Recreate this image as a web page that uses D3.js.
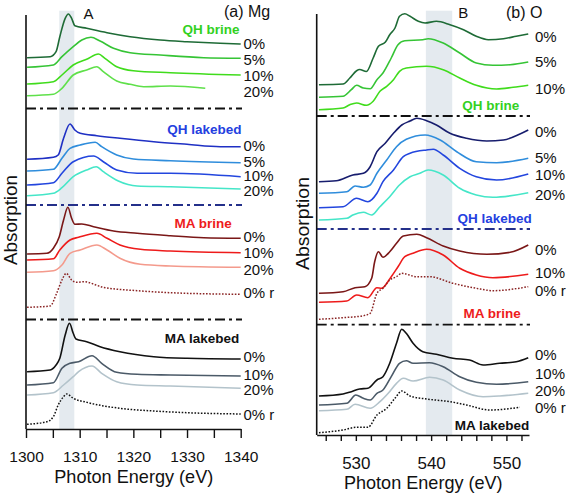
<!DOCTYPE html>
<html><head><meta charset="utf-8">
<script src="https://cdn.jsdelivr.net/npm/d3@7"></script>
<style>body{margin:0;background:#fff}svg{display:block}text{font-family:"Liberation Sans",Arial,sans-serif}</style>
</head><body>
<script>
// ---------- DATA (energy eV, absorption arb. units) ----------
// (a) Mg K-edge
const mgTicks = [1300,1305,1310,1315,1320,1325,1330,1335,1340];
const mgQHb0 = [[1300.2,382.3],[1304.5,383.3],[1305.6,388.3],[1306.3,403.3],[1307.3,421.7],[1307.9,426],[1308.5,421.7],[1309.1,414.3],[1311.3,411.7],[1315.1,407.3],[1319.4,403.3],[1325,400],[1330,398.3],[1336.2,396.7],[1340,396]];
const mgQHb5 = [[1300.2,372.7],[1305.1,375],[1306.7,383.3],[1308.8,393.3],[1310.4,400],[1312.1,402.7],[1313.8,399],[1316.3,391.7],[1319.4,387.3],[1325,385],[1333.1,382.3],[1340,381.7]];
const mgQHb10 = [[1300.2,356],[1305.1,358.3],[1306.7,365],[1308.8,375],[1311.3,380.7],[1313.5,386],[1314.7,381.7],[1316.9,373.3],[1320,369.3],[1326.9,367.3],[1340,365]];
const mgQHb20 = [[1300.2,344.3],[1305.1,345.7],[1306.7,351.7],[1308.8,365],[1311.3,370],[1313.2,373.3],[1314.4,368.3],[1316.9,359],[1319.4,355.7],[1321.9,353.3],[1326.9,354],[1333.4,351.7]];
const mgQHl0 = [[1300.2,280.7],[1305.1,282.7],[1306.0,285],[1307.0,301.7],[1308.2,316],[1309.1,310],[1310.1,306.7],[1313.2,304.3],[1317.5,301.7],[1323.8,298.3],[1330,295.7],[1336.2,293.3],[1340,293.3]];
const mgQHl5 = [[1300.2,269],[1305.1,270.7],[1306.7,281.7],[1308.2,291.7],[1310.1,295],[1312.9,297.7],[1314.1,293.3],[1316.9,285],[1320,281],[1326.9,279.3],[1340,277.3]];
const mgQHl10 = [[1300.2,255],[1305.1,257.3],[1306.7,266.7],[1308.8,278.3],[1312.6,284],[1314.4,278.3],[1316.9,270],[1320.7,266.7],[1326.9,266.7],[1340,263.3]];
const mgQHl20 = [[1300.2,244.3],[1305.1,246.7],[1306.7,252.3],[1308.8,263.3],[1311.3,270],[1313.1,273.3],[1314.4,268.3],[1317.2,259],[1320.7,254],[1326.9,253.3],[1340,251]];
const mgMAb0 = [[1300.2,186],[1303.9,186.7],[1305.1,191.7],[1306.2,203.3],[1307.0,220],[1307.8,232.7],[1308.5,221.7],[1309.1,215.7],[1310.4,216],[1312.6,213.3],[1316.3,209],[1320.7,206.7],[1326.9,204.3],[1333.1,202.3],[1340,201.7]];
const mgMAb10 = [[1300.2,180],[1305.1,181.3],[1306.3,190],[1308.2,200],[1309.8,202.7],[1313.2,206.7],[1315.1,201.7],[1317.5,195],[1321.3,190.7],[1326.9,189],[1340,187.3]];
const mgMAb20 = [[1300.2,167.7],[1305.1,169.3],[1306.7,175],[1308.2,186.7],[1310.1,190],[1313.2,195],[1315.1,190],[1317.5,181.7],[1321.3,175.7],[1326.9,174],[1340,172.7]];
const mgMAb0r = [[1300.2,132.7],[1304.5,134],[1305.7,146.7],[1306.7,160],[1307.5,166.7],[1308.5,160],[1309.5,157.7],[1310.7,158.3],[1314.4,152.7],[1320.7,149.3],[1326.9,147.3],[1340,145.7]];
const mgMAl0 = [[1300.2,68.3],[1304.5,70],[1305.6,75],[1306.3,81.7],[1307.3,105],[1308.1,116.7],[1308.8,106.7],[1309.3,101],[1311.3,98.3],[1313.8,93.3],[1317.5,88.3],[1323.8,83.3],[1330,81.7],[1340,81]];
const mgMAl10 = [[1300.2,55],[1305.1,57.3],[1306.7,71.7],[1308.2,76.7],[1309.8,78.3],[1312.3,84.3],[1314.1,76.7],[1316.9,67.7],[1320.7,65.7],[1326.9,65],[1340,64]];
const mgMAl20 = [[1300.2,45],[1305.1,47.3],[1307.0,55],[1308.8,63.3],[1309.8,68.3],[1312.3,74],[1314.1,66.7],[1316.9,58.3],[1320.7,55],[1326.9,54],[1340,51.7]];
const mgMAl0r = [[1300.2,15.7],[1303.9,18.3],[1305.1,23.3],[1306.0,35],[1307.0,43.3],[1307.6,46],[1308.8,41.7],[1311.3,37.7],[1317.5,31.7],[1323.8,29],[1330,27.3],[1340,26]];

// (b) O K-edge
const oTicks = [526,528,530,532,534,536,538,540,542,544,546,548,550,552];
const oQHb0 = [[525.1,355.3],[528.3,356],[529.2,362],[530.1,369.3],[530.5,370.5],[531.4,368.5],[532.3,382],[533.0,393.7],[533.9,397.7],[534.5,405.3],[535.2,412],[535.8,423.7],[536.5,426.3],[537.2,423.7],[538.3,418.7],[539.2,417],[540.7,418.7],[542.5,415.3],[544.3,410.3],[546.0,403.7],[547.6,400.3],[549.6,401.3],[551.3,403.7],[552.9,406]];
const oQHb5 = [[525.1,342.7],[528.3,343.7],[529.4,350.3],[530.1,354.7],[531.0,352],[531.9,351.3],[532.8,360.3],[533.6,367],[534.7,382],[535.6,395.3],[536.5,399.3],[538.9,400.3],[539.6,401.3],[541.6,397],[543.8,387],[546.0,377],[548.2,374.7],[550.5,375.3],[552.9,378]];
const oQHb10 = [[525.1,330.3],[528.3,332],[529.2,335.3],[530.1,337],[531.4,334.7],[532.3,338.7],[533.2,348.7],[534.1,353.7],[535.0,360.3],[535.8,368.7],[536.7,372],[539.4,373.7],[541.6,370.3],[543.8,362],[546.0,354.7],[548.7,351],[550.9,352.7],[552.9,354.7]];
const oQHl0 = [[525.1,258.3],[527.4,259.3],[529.6,265],[531.0,266.7],[531.9,273.3],[532.8,288.3],[533.9,296.7],[535.0,306.7],[536.1,315],[537.2,319],[538.1,321.7],[539.4,319.3],[540.7,315],[542.5,306.7],[544.7,301.7],[547.4,299],[549.6,300],[551.8,306],[552.9,310]];
const oQHl5 = [[525.1,246.7],[528.8,248.3],[529.9,254],[531.0,252.7],[531.9,255],[532.8,266.7],[534.1,280],[535.4,293.3],[536.7,300.7],[539.2,305],[541.2,300],[543.4,288.3],[546.0,278.3],[548.7,277.3],[552.9,281.7]];
const oQHl10 = [[525.1,232.3],[528.3,233.3],[530.1,241.7],[531.6,238.3],[532.8,246.7],[533.6,258.3],[535.0,270],[536.3,283.3],[537.2,286.7],[539.4,290],[540.3,290.7],[541.6,285],[543.8,271.7],[546.0,263.3],[548.7,260],[552.9,266]];
const oQHl20 = [[525.1,220],[528.8,221.7],[529.6,225],[531.0,227.7],[532.1,225],[533.2,233.3],[534.5,243.3],[535.8,255],[537.2,263.3],[538.5,266.7],[539.6,270],[541.6,265],[543.8,251.7],[546.0,245],[548.2,242.7],[552.9,247.3]];
const oMAb0 = [[525.1,146.7],[528.3,148.3],[529.9,152.3],[531.2,153.3],[532.1,161.7],[532.5,178.3],[533.0,188.3],[533.6,182.7],[534.5,188.3],[535.4,196.7],[536.3,204],[538.1,205.7],[539.4,202.3],[541.6,194],[543.8,189],[547.4,185.7],[550.5,187.7],[552.9,195]];
const oMAb10 = [[525.1,137.7],[528.8,139],[530.1,145],[531.6,142.3],[532.8,152.3],[533.4,151.7],[534.7,163.3],[535.6,173.3],[536.5,183.3],[537.6,186.7],[539.4,190.7],[541.6,185],[543.8,171.7],[546.0,165],[548.2,162.3],[552.9,165.7]];
const oMAb0r = [[525.1,120.7],[528.3,122.3],[531.0,124.3],[531.9,126.7],[532.8,146.7],[533.6,151.7],[534.5,160],[535.4,163.3],[536.1,166.7],[538.1,163.3],[539.8,163.3],[542.9,156.7],[546.0,151.7],[548.2,149.3],[552.9,153.3]];
const oMAl0 = [[525.1,44],[528.3,46],[529.4,48.3],[530.5,51],[531.6,51.7],[532.8,60],[533.6,63.3],[534.5,76.7],[535.4,96.7],[536.1,110.7],[536.7,106.7],[537.6,96.7],[538.9,88.3],[540.7,85.7],[542.9,81.7],[545.1,80],[546.9,75],[549.1,76.7],[551.3,78.3],[552.9,82.3]];
const oMAl10 = [[525.1,35],[528.8,36.7],[530.0,45],[531.0,41.7],[531.9,40],[532.8,46.7],[533.6,50],[534.7,63.3],[535.8,76.7],[536.7,79.3],[537.6,76.7],[539.8,77.3],[541.6,73.3],[543.8,63.3],[546.0,57.7],[548.7,55.7],[552.9,58.3]];
const oMAl20 = [[525.1,29.3],[528.8,30.7],[529.9,35.7],[531.9,31.7],[533.2,38.3],[534.3,46.7],[535.4,56.7],[536.3,61.7],[537.6,59],[539.8,62.7],[541.6,60],[543.8,50],[546.9,43.3],[549.1,44],[552.9,46.7]];
const oMAl0r = [[525.1,7.3],[528.3,10],[530.1,12.7],[531.6,12.7],[532.8,25],[534.1,31.7],[535.2,41.7],[536.1,49],[537.2,44],[539.4,41],[542.5,38.3],[544.7,35],[547.8,30],[551.8,32.7]];

const mgBand = [1306.2, 1309.0];
const oBand = [539.3, 542.8];

// ---------- STYLE / LAYOUT ----------
const C = {
  qhb0:"#1e6b36", qhb5:"#35c435", qhb10:"#40dc1c", qhb20:"#5fe04a",
  qhl0:"#1f30c4", qhl5:"#2f8ddc", qhl10:"#2346de", qhl20:"#45e6c8",
  qhl0o:"#171d6e",
  mab0:"#7a1717", mab10:"#ee1b1b", mab20:"#f49a8c", mab0r:"#8a2424",
  mal0:"#111111", mal10:"#4b5a68", mal20:"#b3c3cb", mal0r:"#111111",
  grpQHb:"#33d11f", grpQHl:"#2440e0", grpMAb:"#ee1c1c", grpMAl:"#111111"
};

const W = 567, H = 495;
const svg = d3.select("body").append("svg").attr("width", W).attr("height", H);

const y = d3.scaleLinear().domain([0, 440]).range([440, 0]);
const xL = d3.scaleLinear().domain([1300, 1340]).range([26, 240.7]);
const xR = d3.scaleLinear().domain([524.8, 553]).range([316.7, 529]);

const panels = [
  { x: xL, axisY: 429, topY: 15, band: mgBand, bandTop: 10.7, tickSize: 9, tickFont: 15.5, tickPad: 13.4,
    ticks: mgTicks, sepEnd: 242, seps: [[108.5,"#111"],[205,"#24308a"],[319.5,"#111"]],
    labX: 243.5, labFont: 15, titleX: 133.8, titleY: 483, titleLen: 159, titleFont: 19,
    ylabX: 17, ylabY: 220, ylabLen: 90,
    letter: ["A", 83.5, 19.3], tag: ["(a) Mg", 224, 16.5],
    series: [
      [mgQHb0,"qhb0","0%",48.5],[mgQHb5,"qhb5","5%",65],[mgQHb10,"qhb10","10%",80.5],[mgQHb20,"qhb20","20%",96.5],
      [mgQHl0,"qhl0","0%",150.5],[mgQHl5,"qhl5","5%",166.5],[mgQHl10,"qhl10","10%",181.3],[mgQHl20,"qhl20","20%",196],
      [mgMAb0,"mab0","0%",241.5],[mgMAb10,"mab10","10%",258.3],[mgMAb20,"mab20","20%",275],[mgMAb0r,"mab0r","0% r",298,true],
      [mgMAl0,"mal0","0%",362],[mgMAl10,"mal10","10%",379.5],[mgMAl20,"mal20","20%",394.5],[mgMAl0r,"mal0r","0% r",420,true]
    ],
    groups: [["QH brine","grpQHb",239.5,33.5],["QH lakebed","grpQHl",241.5,133.5],["MA brine","grpMAb",231.7,228.3],["MA lakebed","grpMAl",239.3,343.3]]
  },
  { x: xR, axisY: 435, topY: 14, band: oBand, bandTop: 10.7, tickSize: 6, tickFont: 17, tickPad: 16.3,
    ticks: oTicks, sepEnd: 530, seps: [[116,"#111"],[229,"#24308a"],[324.7,"#111"]],
    labX: 535, labFont: 15, titleX: 423.3, titleY: 488.5, titleLen: 158.7, titleFont: 19,
    ylabX: 309, ylabY: 223.5, ylabLen: 93,
    letter: ["B", 458.3, 18.3], tag: ["(b) O", 506, 18.3],
    series: [
      [oQHb0,"qhb0","0%",41.7],[oQHb5,"qhb5","5%",66.7],[oQHb10,"qhb10","10%",94],
      [oQHl0,"qhl0o","0%",136.7],[oQHl5,"qhl5","5%",163.3],[oQHl10,"qhl10","10%",180],[oQHl20,"qhl20","20%",200],
      [oMAb0,"mab0","0%",255],[oMAb10,"mab10","10%",278.3],[oMAb0r,"mab0r","0% r",296,true],
      [oMAl0,"mal0","0%",360],[oMAl10,"mal10","10%",379.3],[oMAl20,"mal20","20%",396],[oMAl0r,"mal0r","0% r",412.7,true]
    ],
    groups: [["QH brine","grpQHb",519.3,110],["QH lakebed","grpQHl",531.7,222.7],["MA brine","grpMAb",520.7,318],["MA lakebed","grpMAl",529.3,430]]
  }
];

panels.forEach(p => {
  const g = svg.append("g");
  const x0 = p.x.range()[0];
  // shaded band
  g.append("rect")
    .attr("x", p.x(p.band[0])).attr("width", p.x(p.band[1]) - p.x(p.band[0]))
    .attr("y", p.bandTop).attr("height", p.axisY - p.bandTop)
    .attr("fill", "#e4eaef");
  // separators
  p.seps.forEach(([sy, col]) => {
    g.append("line").attr("x1", x0).attr("x2", p.sepEnd).attr("y1", sy).attr("y2", sy)
      .attr("stroke", col).attr("stroke-width", 1.8).attr("stroke-dasharray", "10,4,3,4");
  });
  // curves
  const line = d3.line().x(d => p.x(d[0])).y(d => y(d[1])).curve(d3.curveMonotoneX);
  p.series.forEach(([data, ck, lab, ly, dotted]) => {
    g.append("path").attr("d", line(data)).attr("fill", "none")
      .attr("stroke", C[ck]).attr("stroke-width", dotted ? 1.5 : 1.6)
      .attr("stroke-linejoin", "round")
      .attr("stroke-dasharray", dotted ? "1.6,1.6" : null);
    g.append("text").attr("x", p.labX).attr("y", ly).attr("font-size", p.labFont).attr("fill", "#111").text(lab);
  });
  // group names
  p.groups.forEach(([t, ck, gx, gy]) => {
    g.append("text").attr("x", gx).attr("y", gy).attr("text-anchor", "end")
      .attr("font-size", 13.5).attr("font-weight", "bold").attr("fill", C[ck]).text(t);
  });
  // axes
  const ax = d3.axisBottom(p.x).tickValues(p.ticks).tickFormat(d => d % 10 === 0 ? d : "")
    .tickSize(p.tickSize).tickSizeOuter(0).tickPadding(p.tickPad);
  const ag = g.append("g").attr("transform", `translate(0,${p.axisY})`).call(ax);
  ag.select(".domain").attr("stroke", "#111").attr("stroke-width", 1.6);
  ag.selectAll(".tick line").attr("stroke", "#111").attr("stroke-width", 1.4);
  ag.selectAll(".tick text").filter(d => d % 10 !== 0).remove();
  ag.selectAll(".tick text").attr("font-size", p.tickFont).attr("fill", "#111")
    .attr("font-family", "Liberation Sans, Arial, sans-serif");
  g.append("line").attr("x1", x0).attr("x2", x0).attr("y1", p.topY).attr("y2", p.axisY)
    .attr("stroke", "#111").attr("stroke-width", 1.6);
  // titles
  g.append("text").attr("x", p.titleX).attr("y", p.titleY).attr("text-anchor", "middle")
    .attr("font-size", p.titleFont).attr("fill", "#111")
    .attr("textLength", p.titleLen).attr("lengthAdjust", "spacingAndGlyphs").text("Photon Energy (eV)");
  g.append("text").attr("transform", `translate(${p.ylabX},${p.ylabY}) rotate(-90)`)
    .attr("text-anchor", "middle").attr("font-size", 19).attr("fill", "#111")
    .attr("textLength", p.ylabLen).attr("lengthAdjust", "spacingAndGlyphs").text("Absorption");
  g.append("text").attr("x", p.letter[1]).attr("y", p.letter[2]).attr("font-size", 15).attr("fill", "#111").text(p.letter[0]);
  g.append("text").attr("x", p.tag[1]).attr("y", p.tag[2]).attr("font-size", 16).attr("fill", "#111").text(p.tag[0]);
});
</script>
</body></html>
